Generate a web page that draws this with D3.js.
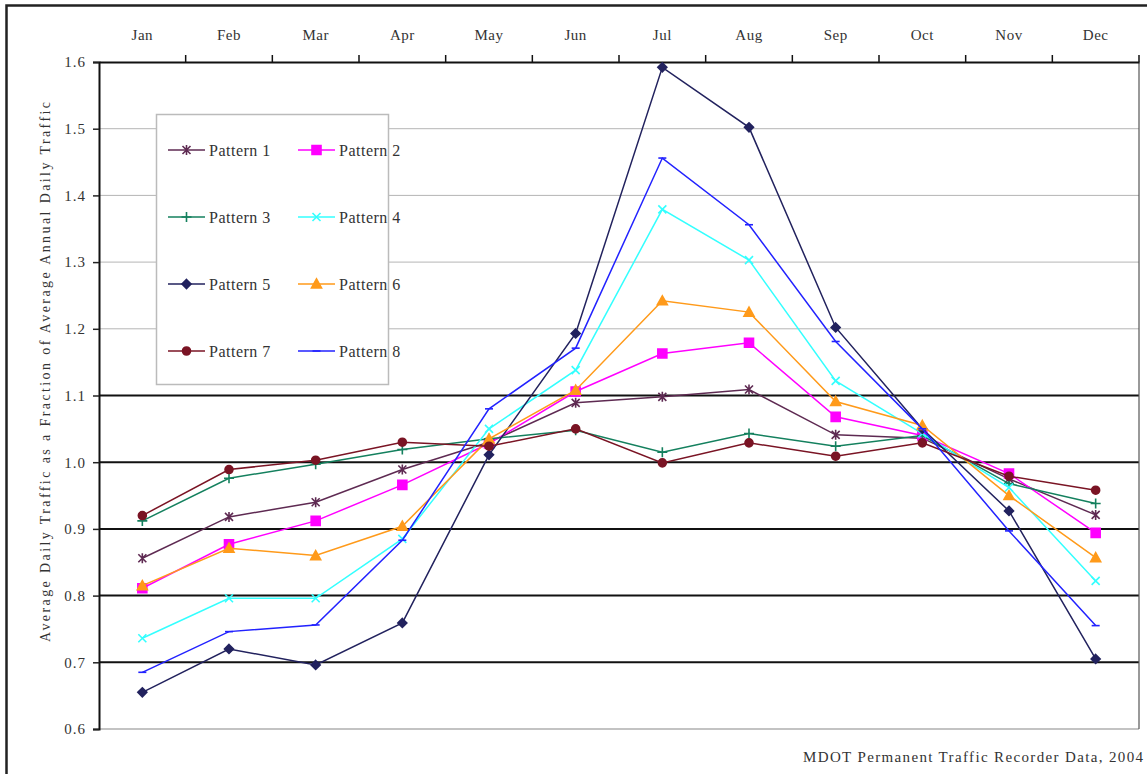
<!DOCTYPE html>
<html>
<head>
<meta charset="utf-8">
<script src="https://cdn.jsdelivr.net/npm/d3@7"></script>
<style>
    body { margin: 0; background: #fff; }
    text { font-family: "Liberation Serif", "DejaVu Serif", serif; fill: #333; }
</style>
</head>
<body>
<div id="chart"></div>
<script>
const months = ['Jan', 'Feb', 'Mar', 'Apr', 'May', 'Jun', 'Jul', 'Aug', 'Sep', 'Oct', 'Nov', 'Dec'];
const yTicks = [0.6, 0.7, 0.8, 0.9, 1.0, 1.1, 1.2, 1.3, 1.4, 1.5, 1.6];

const pattern1 = [0.856, 0.918, 0.940, 0.989, 1.030, 1.089, 1.098, 1.109, 1.041, 1.036, 0.975, 0.921];
const pattern2 = [0.811, 0.877, 0.912, 0.966, 1.028, 1.106, 1.163, 1.179, 1.068, 1.040, 0.983, 0.894];
const pattern3 = [0.912, 0.976, 0.997, 1.019, 1.035, 1.048, 1.015, 1.043, 1.024, 1.040, 0.968, 0.938];
const pattern4 = [0.736, 0.796, 0.796, 0.885, 1.050, 1.138, 1.379, 1.303, 1.122, 1.043, 0.962, 0.822];
const pattern5 = [0.655, 0.720, 0.696, 0.759, 1.011, 1.193, 1.592, 1.502, 1.202, 1.050, 0.927, 0.705];
const pattern6 = [0.815, 0.871, 0.860, 0.904, 1.035, 1.108, 1.242, 1.225, 1.091, 1.055, 0.950, 0.857];
const pattern7 = [0.920, 0.989, 1.003, 1.030, 1.024, 1.050, 0.999, 1.029, 1.009, 1.029, 0.979, 0.958];
const pattern8 = [0.685, 0.746, 0.756, 0.883, 1.080, 1.171, 1.456, 1.356, 1.181, 1.050, 0.897, 0.755];

const seriesNames = ['Pattern 1', 'Pattern 2', 'Pattern 3', 'Pattern 4', 'Pattern 5', 'Pattern 6', 'Pattern 7', 'Pattern 8'];
const seriesColors = ['#5e2a52', '#ff00ff', '#14805e', '#33ffff', '#22225e', '#ff9a1a', '#7a1424', '#2222ff'];
const seriesMarkers = ['star', 'square', 'plus', 'x', 'diamond', 'triangle', 'circle', 'dash'];
const seriesValues = [pattern1, pattern2, pattern3, pattern4, pattern5, pattern6, pattern7, pattern8];

const sourceNote = 'MDOT Permanent Traffic Recorder Data, 2004';
const yTitle = 'Average Daily Traffic as a Fraction of Average Annual Daily Traffic';

function lineChart() {
    const width = 1147;
    const height = 774;
    const plot = { left: 99, right: 1139, top: 62, bottom: 729 };

    const x = d3.scaleBand().domain(months).range([plot.left, plot.right]);
    const y = d3.scaleLinear().domain([0.6, 1.6]).range([plot.bottom, plot.top]);

    // marker shapes, drawn around 0,0
    function markerPath(kind) {
        switch (kind) {
            case 'square': return 'M-4.5,-4.5H4.5V4.5H-4.5Z';
            case 'diamond': return 'M0,-4.5L4.5,0L0,4.5L-4.5,0Z';
            case 'triangle': return 'M0,-5L5,4H-5Z';
            case 'circle': return d3.symbol(d3.symbolCircle, 50)();
            case 'plus': return 'M-5,0H5M0,-5V5';
            case 'x': return 'M-4,-4L4,4M-4,4L4,-4';
            case 'star': return 'M-4,-4L4,4M-4,4L4,-4M0,-5V5';
            case 'dash': return 'M-4,0H4';
        }
    }
    const filled = k => ['square', 'diamond', 'triangle', 'circle'].includes(k);

    const svg = d3.select('#chart')
        .append('svg')
        .attr('width', width)
        .attr('height', height);

    // outer frame
    svg.append('rect')
        .attr('x', 6.5).attr('y', 5.5)
        .attr('width', width + 10).attr('height', height + 10)
        .attr('fill', 'none')
        .attr('stroke', '#222')
        .attr('stroke-width', 2.5);

    // gridlines
    svg.append('g')
        .selectAll('line')
        .data(yTicks.filter(t => t > 0.6 && t < 1.6))
        .enter()
        .append('line')
        .attr('x1', plot.left).attr('x2', plot.right)
        .attr('y1', d => y(d)).attr('y2', d => y(d))
        .attr('stroke', d => d > 1.15 ? '#b5b5b5' : '#111')
        .attr('stroke-width', d => d > 1.15 ? 1 : 2);

    // plot border
    svg.append('line')
        .attr('x1', plot.left).attr('x2', plot.right)
        .attr('y1', plot.bottom).attr('y2', plot.bottom)
        .attr('stroke', '#888').attr('stroke-width', 1.2);
    svg.append('line')
        .attr('x1', plot.right).attr('x2', plot.right)
        .attr('y1', plot.top).attr('y2', plot.bottom)
        .attr('stroke', '#555').attr('stroke-width', 1.2);

    // y axis
    const yAxis = svg.append('g')
        .attr('transform', `translate(${plot.left},0)`)
        .call(d3.axisLeft(y).tickValues(yTicks).tickFormat(d3.format('.1f')).tickSize(6).tickPadding(7));
    yAxis.select('.domain').attr('stroke', '#111').attr('stroke-width', 2);
    yAxis.selectAll('.tick line').attr('stroke', '#222').attr('stroke-width', 1.5);
    yAxis.selectAll('.tick text')
        .style('font-family', '"Liberation Serif", serif')
        .style('font-size', '15px')
        .style('letter-spacing', '1px')
        .attr('fill', '#555');

    // month axis on top, ticks between categories
    const xAxis = svg.append('g')
        .attr('transform', `translate(0,${plot.top})`)
        .call(d3.axisTop(x).tickSize(0).tickPadding(22));
    xAxis.select('.domain').attr('stroke', '#111').attr('stroke-width', 2);
    xAxis.selectAll('.tick text')
        .style('font-family', '"Liberation Serif", serif')
        .style('font-size', '15px')
        .style('letter-spacing', '0.5px')
        .attr('fill', '#333');
    svg.append('g')
        .selectAll('line')
        .data(months)
        .enter()
        .append('line')
        .attr('x1', d => x(d) + x.bandwidth()).attr('x2', d => x(d) + x.bandwidth())
        .attr('y1', plot.top).attr('y2', plot.top - 7)
        .attr('stroke', '#111').attr('stroke-width', 1.5);

    // y title
    svg.append('text')
        .attr('transform', `translate(50,372) rotate(-90)`)
        .attr('text-anchor', 'middle')
        .attr('textLength', 540)
        .attr('lengthAdjust', 'spacing')
        .style('font-size', '14px')
        .text(yTitle);

    // series
    const line = d3.line()
        .x((d, i) => x(months[i]) + x.bandwidth() / 2)
        .y(d => y(d));

    const groups = svg.selectAll('.series')
        .data(seriesValues)
        .enter()
        .append('g')
        .classed('series', true);

    groups.append('path')
        .attr('d', d => line(d))
        .attr('fill', 'none')
        .attr('stroke', (d, i) => seriesColors[i])
        .attr('stroke-width', 1.5);

    groups.each(function(vals, s) {
        d3.select(this).selectAll('.marker')
            .data(vals)
            .enter()
            .append('path')
            .attr('transform', (d, i) => `translate(${x(months[i]) + x.bandwidth() / 2},${y(d)})`)
            .attr('d', markerPath(seriesMarkers[s]))
            .attr('fill', filled(seriesMarkers[s]) ? seriesColors[s] : 'none')
            .attr('stroke', seriesColors[s])
            .attr('stroke-width', 1.6);
    });

    // legend
    const legend = svg.append('g');
    legend.append('rect')
        .attr('x', 156.5).attr('y', 114.5)
        .attr('width', 232).attr('height', 270)
        .attr('fill', '#fff')
        .attr('stroke', '#bbb')
        .attr('stroke-width', 1.5);

    const items = legend.selectAll('.item')
        .data(seriesNames)
        .enter()
        .append('g')
        .attr('transform', (d, i) => `translate(${168 + (i % 2) * 130},${150 + Math.floor(i / 2) * 67})`);
    items.append('line')
        .attr('x1', 0).attr('x2', 37)
        .attr('stroke', (d, i) => seriesColors[i])
        .attr('stroke-width', 1.5);
    items.append('path')
        .attr('transform', 'translate(18.5,0)')
        .attr('d', (d, i) => markerPath(seriesMarkers[i]))
        .attr('fill', (d, i) => filled(seriesMarkers[i]) ? seriesColors[i] : 'none')
        .attr('stroke', (d, i) => seriesColors[i])
        .attr('stroke-width', 1.6);
    items.append('text')
        .attr('x', 41).attr('dy', '0.35em')
        .style('font-size', '16px')
        .style('letter-spacing', '0.5px')
        .text(d => d);

    // source note
    svg.append('text')
        .attr('x', 1143).attr('y', 762)
        .attr('text-anchor', 'end')
        .attr('textLength', 340)
        .attr('lengthAdjust', 'spacing')
        .style('font-size', '15px')
        .text(sourceNote);
}

lineChart();
</script>
</body>
</html>
